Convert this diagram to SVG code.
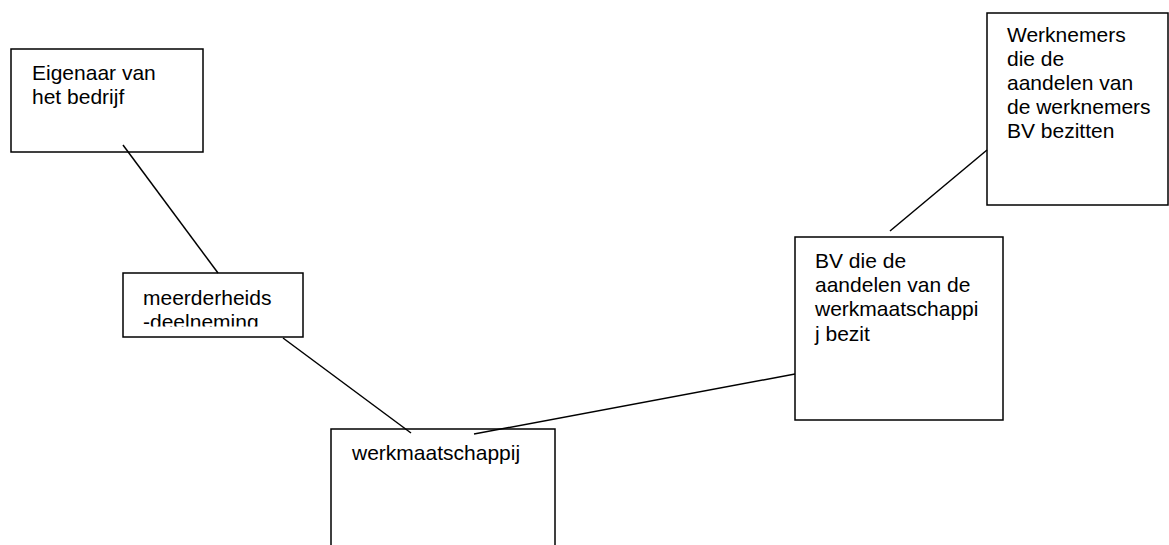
<svg xmlns="http://www.w3.org/2000/svg" width="1169" height="545" viewBox="0 0 1169 545">
  <style>
    .box { fill: #ffffff; stroke: #000000; stroke-width: 1.5; }
    .lbl { font-family: "Liberation Sans", Arial, sans-serif; font-size: 21px; fill: #000000; }
    .conn { stroke: #000000; stroke-width: 1.5; fill: none; }
  </style>
  <defs>
    <clipPath id="clipMeer">
      <rect x="124" y="274" width="178" height="52.5"/>
    </clipPath>
  </defs>
  <rect x="0" y="0" width="1169" height="545" fill="#ffffff"/>
  <g id="node-eigenaar">
    <rect class="box" x="11" y="49" width="192" height="103"/>
    <text class="lbl" x="32" y="80">Eigenaar van</text>
    <text class="lbl" x="32" y="104">het bedrijf</text>
  </g>
  <g id="node-meerderheids">
    <rect class="box" x="123" y="273" width="180" height="64"/>
    <g clip-path="url(#clipMeer)">
      <text class="lbl" x="143" y="305">meerderheids</text>
      <text class="lbl" x="143" y="329">-deelneming</text>
    </g>
  </g>
  <g id="node-werkmaatschappij">
    <rect class="box" x="331" y="429" width="224" height="140"/>
    <text class="lbl" x="352" y="460">werkmaatschappij</text>
  </g>
  <g id="node-bv">
    <rect class="box" x="795" y="237" width="208" height="183"/>
    <text class="lbl" x="815" y="268">BV die de</text>
    <text class="lbl" x="815" y="292">aandelen van de</text>
    <text class="lbl" x="815" y="316">werkmaatschappi</text>
    <text class="lbl" x="815" y="341">j bezit</text>
  </g>
  <g id="node-werknemers">
    <rect class="box" x="987" y="13" width="181" height="192"/>
    <text class="lbl" x="1007" y="42">Werknemers</text>
    <text class="lbl" x="1007" y="66">die de</text>
    <text class="lbl" x="1007" y="90">aandelen van</text>
    <text class="lbl" x="1007" y="114">de werknemers</text>
    <text class="lbl" x="1007" y="138">BV bezitten</text>
  </g>
  <g id="connectors">
    <line class="conn" x1="123" y1="145" x2="218" y2="273"/>
    <line class="conn" x1="283" y1="338" x2="411" y2="433"/>
    <line class="conn" x1="474" y1="434" x2="795" y2="374"/>
    <line class="conn" x1="890" y1="231" x2="987" y2="150"/>
  </g>
</svg>
